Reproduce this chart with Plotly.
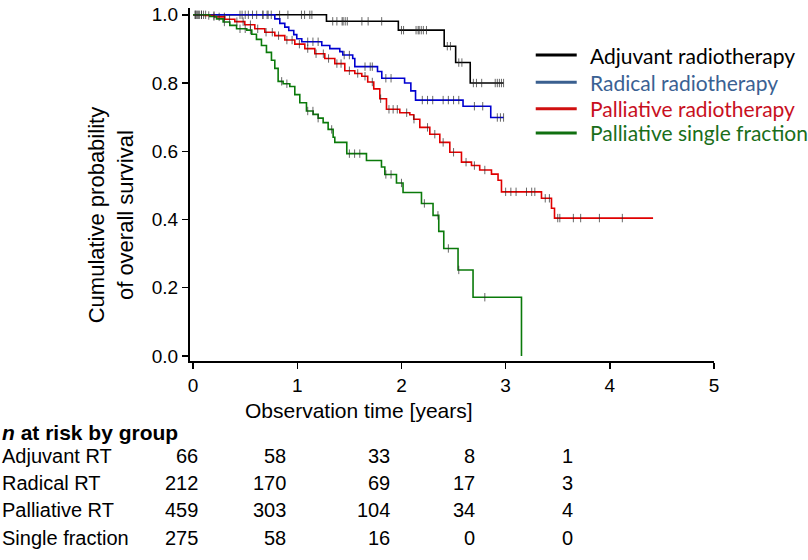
import plotly.graph_objects as go

# ---------------- data ----------------
group_names = ["Adjuvant radiotherapy", "Radical radiotherapy",
               "Palliative radiotherapy", "Palliative single fraction"]

adj_t = [0.0, 1.28, 1.97, 2.41, 2.52, 2.66, 2.98]
adj_s = [1.0, 0.981, 0.955, 0.908, 0.860, 0.800, 0.800]
adj_cens = [0.02, 0.04, 0.08, 0.45, 0.47, 0.67, 0.72, 0.83, 0.91, 1.04, 1.07, 1.12,
            1.14, 1.34, 1.38, 1.43, 1.44, 1.46, 1.48, 1.62, 1.68, 1.81, 2.0, 2.02,
            2.14, 2.16, 2.17, 2.19, 2.21, 2.24, 2.44, 2.47, 2.55, 2.58, 2.69, 2.72,
            2.77, 2.90, 2.92, 2.94, 2.96, 2.98]

rad_t = [0.0, 0.784, 0.832, 0.880, 0.918, 0.966, 0.995, 1.043, 1.235, 1.312, 1.408,
         1.437, 1.532, 1.552, 1.770, 1.811, 2.030, 2.090, 2.135, 2.591, 2.857, 2.98]
rad_s = [1.0, 0.988, 0.975, 0.964, 0.954, 0.942, 0.930, 0.921, 0.910, 0.901, 0.892,
         0.882, 0.872, 0.848, 0.834, 0.814, 0.800, 0.777, 0.750, 0.732, 0.699, 0.699]
rad_cens = [0.50, 0.53, 0.57, 0.61, 0.67, 0.71, 0.75, 1.10, 1.15, 1.20, 1.45, 1.50,
            1.65, 1.70, 1.72, 1.85, 1.90, 2.20, 2.25, 2.30, 2.40, 2.45, 2.50, 2.55,
            2.70, 2.78, 2.92, 2.95, 2.98]

pal_t = [0.0, 0.112, 0.208, 0.304, 0.400, 0.496, 0.592, 0.688, 0.784, 0.880, 0.976,
         1.072, 1.168, 1.264, 1.360, 1.456, 1.552, 1.619, 1.676, 1.734, 1.792, 1.856,
         1.984, 2.080, 2.118, 2.176, 2.272, 2.368, 2.464, 2.576, 2.672, 2.751, 2.864,
         2.927, 2.960, 3.344, 3.440, 3.469, 4.415]
pal_s = [1.0, 0.998, 0.994, 0.987, 0.980, 0.971, 0.959, 0.949, 0.939, 0.926, 0.914,
         0.901, 0.886, 0.872, 0.857, 0.836, 0.828, 0.820, 0.803, 0.783, 0.754, 0.723,
         0.713, 0.707, 0.694, 0.670, 0.650, 0.626, 0.597, 0.568, 0.558, 0.545, 0.533,
         0.515, 0.481, 0.462, 0.433, 0.404, 0.404]
pal_cens = [0.03, 0.06, 0.10, 0.15, 0.20, 0.25, 0.30, 0.35, 0.42, 0.48, 0.55, 0.62,
            0.70, 0.76, 0.82, 0.90, 0.95, 1.02, 1.10, 1.18, 1.25, 1.30, 1.38, 1.42,
            1.50, 1.58, 1.65, 1.72, 1.80, 1.88, 1.92, 1.96, 2.05, 2.12, 2.25, 2.32,
            2.40, 2.50, 2.62, 2.70, 2.80, 3.00, 3.05, 3.10, 3.20, 3.25, 3.28, 3.38,
            3.42, 3.50, 3.52, 3.65, 3.72, 3.90, 4.12]

sf_t = [0.0, 0.160, 0.225, 0.288, 0.352, 0.417, 0.515, 0.563, 0.608, 0.656, 0.704,
        0.752, 0.784, 0.816, 0.864, 0.928, 0.976, 1.024, 1.088, 1.152, 1.200, 1.248,
        1.296, 1.344, 1.360, 1.475, 1.664, 1.808, 1.840, 1.952, 2.015, 2.192, 2.303,
        2.358, 2.406, 2.543, 2.687, 3.152]
sf_s = [1.0, 0.995, 0.988, 0.979, 0.969, 0.959, 0.955, 0.943, 0.928, 0.910, 0.890,
        0.867, 0.843, 0.805, 0.798, 0.790, 0.766, 0.742, 0.718, 0.708, 0.697, 0.684,
        0.664, 0.641, 0.626, 0.593, 0.573, 0.554, 0.532, 0.507, 0.479, 0.447, 0.412,
        0.365, 0.315, 0.252, 0.172, 0.0]
sf_cens = [0.02, 0.05, 0.08, 0.12, 0.20, 0.30, 0.45, 0.50, 0.55, 0.85, 0.90, 1.10,
           1.15, 1.20, 1.33, 1.50, 1.55, 1.60, 1.85, 1.90, 2.00, 2.22, 2.35, 2.45,
           2.55, 2.80]

risk_rows = ["Adjuvant RT", "Radical RT", "Palliative RT", "Single fraction"]
risk_adj = [66, 58, 33, 8, 1]
risk_rad = [212, 170, 69, 17, 3]
risk_pal = [459, 303, 104, 34, 4]
risk_sf = [275, 58, 16, 0, 0]

x_ticks = [0, 1, 2, 3, 4, 5]
y_ticks = [0.0, 0.2, 0.4, 0.6, 0.8, 1.0]

# ---------------- styling ----------------
line_colors = ["#000000", "#0000d0", "#e00000", "#0a7a0a"]
legend_line_colors = ["#000000", "#3a5f8f", "#d01010", "#107010"]
legend_text_colors = ["#000000", "#3a6193", "#c8101e", "#1a6e1a"]
FONT = "Liberation Sans, Arial, sans-serif"
LFONT = "Lato, Calibri, sans-serif"

W, H = 808, 560
# plot area in page pixels: x 190.2..714.3, y 4.1..361.2
L = 190.2
R = W - 714.3
T = 4.1
B = H - 361.2
PW, PH = W - L - R, H - T - B


def px_x(x):
    return (x - L) / PW


def px_y(y):
    return (H - B - y) / PH


def step_value(ts, ss, t):
    v = ss[0]
    for ti, si in zip(ts, ss):
        if ti <= t:
            v = si
    return v


fig = go.Figure()
series = [(adj_t, adj_s, adj_cens), (rad_t, rad_s, rad_cens),
          (pal_t, pal_s, pal_cens), (sf_t, sf_s, sf_cens)]
for (ts, ss, cs), name, col in zip(series, group_names, line_colors):
    fig.add_trace(go.Scatter(x=ts, y=ss, mode="lines", line=dict(color=col, width=1.6, shape="hv"),
                             name=name, showlegend=False, hoverinfo="skip"))
for (ts, ss, cs), name, col in zip(series, group_names, line_colors):
    fig.add_trace(go.Scatter(x=cs, y=[step_value(ts, ss, c) for c in cs], mode="markers",
                             marker=dict(symbol="line-ns", size=6,
                                         line=dict(width=1, color="rgba(40,40,40,0.7)")),
                             showlegend=False, hoverinfo="skip"))

# legend drawn manually
leg_y = [51.7, 79.3, 106.0, 130.5]
for name, lc, tc, yy in zip(group_names, legend_line_colors, legend_text_colors, leg_y):
    fig.add_shape(type="line", xref="paper", yref="paper",
                  x0=px_x(536), x1=px_x(577), y0=px_y(yy), y1=px_y(yy),
                  line=dict(color=lc, width=3))
    fig.add_annotation(text=name, xref="paper", yref="paper", x=px_x(588), y=px_y(yy),
                       xanchor="left", yanchor="middle", showarrow=False,
                       font=dict(family=LFONT, size=21, color=tc))

# axis titles
fig.add_annotation(text="Cumulative probability<br>of overall survival", xref="paper", yref="paper",
                   x=px_x(112), y=px_y(214), textangle=-90, showarrow=False,
                   xanchor="center", yanchor="middle",
                   font=dict(family=FONT, size=22, color="#000000"))
fig.add_annotation(text="Observation time [years]", xref="paper", yref="paper",
                   x=px_x(359), y=px_y(411), showarrow=False, xanchor="center", yanchor="middle",
                   font=dict(family=FONT, size=21, color="#000000"))

# risk table
fig.add_annotation(text="<b><i>n</i> at risk by group</b>", xref="paper", yref="paper",
                   x=px_x(0), y=px_y(434), xanchor="left", yanchor="middle", showarrow=False,
                   font=dict(family=FONT, size=21, color="#000000"))
row_y = [457, 485, 512, 540]
col_x = [200, 288, 392, 477, 575]
for label, vals, yy in zip(risk_rows, [risk_adj, risk_rad, risk_pal, risk_sf], row_y):
    fig.add_annotation(text=label, xref="paper", yref="paper", x=px_x(0), y=px_y(yy),
                       xanchor="left", yanchor="middle", showarrow=False,
                       font=dict(family=FONT, size=20, color="#000000"))
    for v, xx in zip(vals, col_x):
        fig.add_annotation(text=str(v), xref="paper", yref="paper", x=px_x(xx), y=px_y(yy),
                           xanchor="right", yanchor="middle", showarrow=False,
                           font=dict(family=FONT, size=20, color="#000000"))

fig.update_layout(
    width=W, height=H, autosize=False,
    margin=dict(l=L, r=R, t=T, b=B, pad=0),
    paper_bgcolor="white", plot_bgcolor="white",
    showlegend=False,
    xaxis=dict(range=[-0.03, 5.0], tickvals=x_ticks, ticktext=[str(v) for v in x_ticks],
               showline=True, linecolor="#000000", linewidth=2, ticks="outside",
               ticklen=6, tickwidth=1.5, tickcolor="#000000", showgrid=False, zeroline=False,
               tickfont=dict(family=FONT, size=19, color="#000000")),
    yaxis=dict(range=[-0.015, 1.02], tickvals=y_ticks, ticktext=["%.1f" % v for v in y_ticks],
               showline=True, linecolor="#000000", linewidth=2, ticks="outside",
               ticklen=6, tickwidth=1.5, tickcolor="#000000", showgrid=False, zeroline=False,
               tickfont=dict(family=FONT, size=19, color="#000000")),
)

# remove the browser's default page margin so the 808x560 figure fills the window
fig.write_html("out.html", config={"displayModeBar": False, "staticPlot": True},
               post_script="document.body.style.margin='0';document.body.style.overflow='hidden';")
